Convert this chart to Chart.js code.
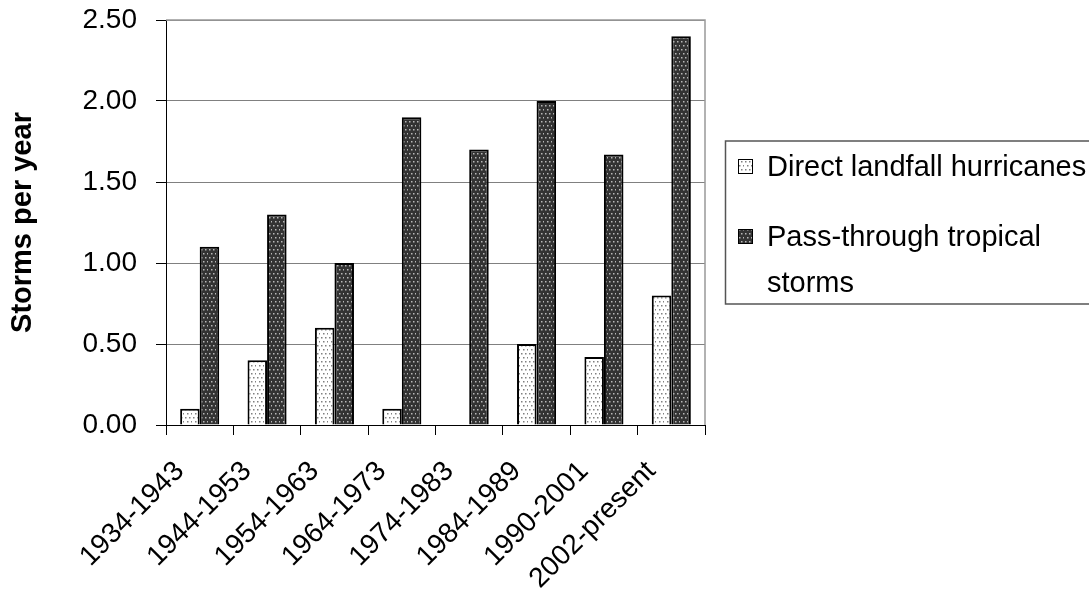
<!DOCTYPE html>
<html lang="en">
<head>
  <meta charset="UTF-8">
  <title>Storms per year</title>
  <script src="https://cdn.jsdelivr.net/npm/chart.js"></script>
  <style>
    body {
      margin: 0;
      background-color: #ffffff;
    }
  </style>
</head>
<body>
  <canvas id="chart" width="1089" height="599"></canvas>

  <script>
    const periods = ["1934-1943", "1944-1953", "1954-1963", "1964-1973", "1974-1983", "1984-1989", "1990-2001", "2002-present"];
    const directLandfall = [0.1, 0.4, 0.6, 0.1, 0, 0.5, 0.42, 0.8];
    const passThrough = [1.1, 1.3, 1.0, 1.9, 1.7, 2.0, 1.67, 2.4];
    const yTicks = [0, 0.5, 1.0, 1.5, 2.0, 2.5];

    const FONT = "'Liberation Sans', Arial, sans-serif";

    // dotted fill used for both series
    function dots(bg, dot) {
      const c = document.createElement("canvas");
      c.width = 8;
      c.height = 8;
      const g = c.getContext("2d");
      g.fillStyle = bg;
      g.fillRect(0, 0, 8, 8);
      g.fillStyle = dot;
      [[1, 1], [5, 1], [3, 5], [7, 5]].forEach(p => g.fillRect(p[0], p[1], 1.5, 1.5));
      return g.createPattern(c, "repeat");
    }

    const ctx = document.getElementById("chart").getContext("2d");
    const lightFill = dots("#ffffff", "#808080");
    const darkFill = dots("#333333", "#b8b8b8");

    // frame around the plot plus the boxed legend on the right
    const frameAndLegend = {
      id: "frameAndLegend",
      afterDraw(chart) {
        const a = chart.chartArea;
        const g = chart.ctx;
        g.save();
        g.strokeStyle = "#999999";
        g.lineWidth = 1.5;
        g.beginPath();
        g.moveTo(a.left, a.top);
        g.lineTo(a.right, a.top);
        g.lineTo(a.right, a.bottom);
        g.stroke();

        g.strokeStyle = "#555555";
        g.lineWidth = 1.5;
        g.strokeRect(725.5, 141, 380, 163);

        const entries = [
          { fill: lightFill, lines: ["Direct landfall hurricanes"], y: 166 },
          { fill: darkFill, lines: ["Pass-through tropical", "storms"], y: 236 }
        ];
        g.font = "29px " + FONT;
        g.textBaseline = "middle";
        g.textAlign = "left";
        entries.forEach(e => {
          g.fillStyle = e.fill;
          g.fillRect(738, e.y - 7, 15, 15);
          g.strokeStyle = "#000000";
          g.lineWidth = 1;
          g.strokeRect(738.5, e.y - 6.5, 14, 14);
          g.fillStyle = "#000000";
          e.lines.forEach((t, i) => g.fillText(t, 767, e.y + 2 + i * 46));
        });
        g.restore();
      }
    };

    new Chart(ctx, {
      type: "bar",
      data: {
        labels: periods,
        datasets: [
          {
            label: "Direct landfall hurricanes",
            data: directLandfall,
            backgroundColor: lightFill,
            borderColor: "#000000",
            borderWidth: 2,
            borderSkipped: "bottom"
          },
          {
            label: "Pass-through tropical storms",
            data: passThrough,
            backgroundColor: darkFill,
            borderColor: "#000000",
            borderWidth: 2,
            borderSkipped: "bottom"
          }
        ]
      },
      options: {
        responsive: false,
        animation: false,
        maintainAspectRatio: false,
        devicePixelRatio: 1,
        categoryPercentage: 0.58,
        barPercentage: 1.0,
        layout: {
          padding: { top: 20, right: 384, left: 6, bottom: 0 }
        },
        plugins: {
          legend: { display: false },
          tooltip: { enabled: false }
        },
        scales: {
          x: {
            grid: {
              offset: true,
              drawOnChartArea: false,
              tickLength: 10,
              tickColor: "#000000"
            },
            border: { display: true, color: "#000000", width: 1 },
            ticks: {
              color: "#000000",
              font: { family: FONT, size: 28 },
              minRotation: 45,
              maxRotation: 45,
              labelOffset: -20,
              padding: 20
            },
            afterFit(scale) {
              scale.height = 599 - 425;
            }
          },
          y: {
            min: 0,
            max: 2.5,
            afterBuildTicks(scale) {
              scale.ticks = yTicks.map(v => ({ value: v }));
            },
            grid: {
              color: "#808080",
              tickLength: 10,
              tickColor: "#000000"
            },
            border: { display: true, color: "#000000", width: 1 },
            ticks: {
              color: "#000000",
              font: { family: FONT, size: 28 },
              padding: 19,
              callback: v => v.toFixed(2)
            },
            title: {
              display: true,
              text: "Storms per year",
              color: "#000000",
              font: { family: FONT, size: 29, weight: "bold" },
              padding: { top: 0, bottom: 0 }
            },
            afterFit(scale) {
              scale.width = 160;
              // label padding would otherwise push the plot top down
              scale.paddingTop = 0;
              scale.paddingBottom = 0;
            }
          }
        }
      },
      plugins: [frameAndLegend]
    });
  </script>
</body>
</html>
